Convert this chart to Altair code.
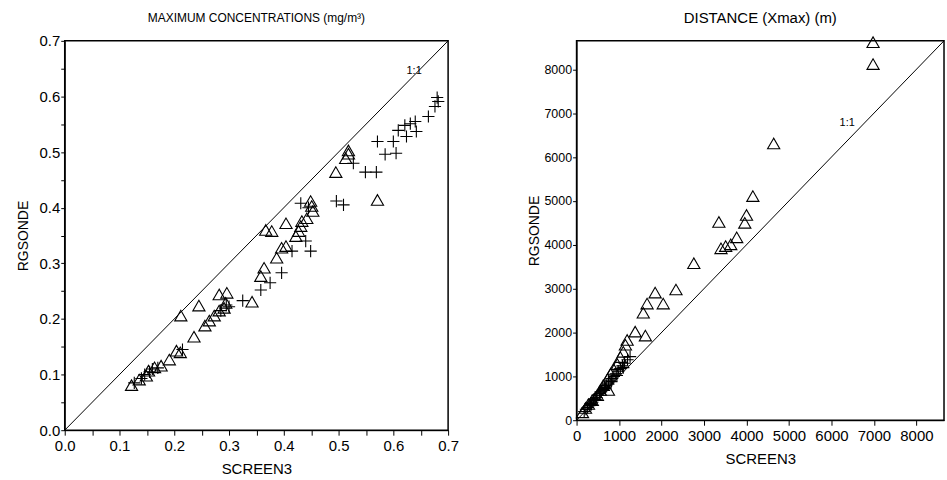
import altair as alt
import pandas as pd

# ---------------- Left panel: maximum concentrations (mg/m3) ----------------
conc_tri_screen3 = [0.122, 0.136, 0.149, 0.153, 0.164, 0.176, 0.191, 0.204, 0.211, 0.212,
                    0.236, 0.245, 0.256, 0.264, 0.273, 0.282, 0.291, 0.282, 0.296, 0.294,
                    0.342, 0.358, 0.364, 0.387, 0.396, 0.404, 0.367, 0.378, 0.404, 0.422,
                    0.427, 0.431, 0.433, 0.442, 0.453, 0.451, 0.449, 0.495, 0.513, 0.518,
                    0.518, 0.571]
conc_tri_rgsonde = [0.081, 0.091, 0.098, 0.107, 0.113, 0.116, 0.127, 0.143, 0.140, 0.206,
                    0.168, 0.224, 0.188, 0.197, 0.206, 0.215, 0.220, 0.244, 0.247, 0.229,
                    0.231, 0.277, 0.292, 0.310, 0.328, 0.331, 0.360, 0.358, 0.372, 0.349,
                    0.358, 0.367, 0.376, 0.381, 0.394, 0.403, 0.412, 0.464, 0.489, 0.497,
                    0.503, 0.414]
conc_plus_screen3 = [0.127, 0.140, 0.146, 0.155, 0.160, 0.170, 0.215, 0.285, 0.295, 0.300,
                     0.325, 0.358, 0.375, 0.396, 0.415, 0.440, 0.449, 0.431, 0.445, 0.496,
                     0.509, 0.527, 0.549, 0.569, 0.571, 0.585, 0.605, 0.600, 0.609, 0.621,
                     0.631, 0.640, 0.624, 0.642, 0.664, 0.676, 0.682, 0.680]
conc_plus_rgsonde = [0.085, 0.093, 0.100, 0.105, 0.110, 0.112, 0.145, 0.215, 0.225, 0.222,
                     0.233, 0.252, 0.265, 0.283, 0.322, 0.340, 0.322, 0.408, 0.400, 0.412,
                     0.405, 0.480, 0.464, 0.464, 0.519, 0.496, 0.498, 0.519, 0.539, 0.548,
                     0.551, 0.555, 0.528, 0.537, 0.564, 0.582, 0.591, 0.598]

# ---------------- Right panel: distance Xmax (m) ----------------
dist_tri_screen3 = [6980, 6980, 4640, 4150, 4000, 3960, 3350, 3770, 3630, 3510,
                    3400, 2760, 2340, 1850, 2040, 1660, 1570, 1620, 1380, 1190,
                    1150, 1100, 1030, 960, 870, 800, 730, 630, 560, 750,
                    490, 370, 280, 210, 140]
dist_tri_rgsonde = [8620, 8120, 6310, 5110, 4680, 4500, 4520, 4170, 4010, 3970,
                    3920, 3580, 2980, 2910, 2660, 2660, 2450, 1930, 2020, 1830,
                    1720, 1560, 1440, 1280, 1170, 1060, 940, 800, 690, 690,
                    570, 460, 370, 280, 180]
dist_plus_screen3 = [180, 220, 260, 300, 330, 370, 400, 430, 470, 500,
                     540, 580, 620, 660, 700, 750, 790, 840, 880, 930,
                     980, 1030, 1080, 1130, 1200, 1260, 350, 450, 560, 680,
                     820, 950, 1100]
dist_plus_rgsonde = [200, 250, 290, 330, 380, 410, 460, 490, 520, 570,
                     610, 650, 700, 750, 790, 850, 900, 950, 1000, 1060,
                     1120, 1180, 1240, 1300, 1380, 1450, 360, 470, 640, 720,
                     880, 1020, 1200]

conc_ticks = [0.0, 0.05, 0.1, 0.15, 0.2, 0.25, 0.3, 0.35, 0.4, 0.45, 0.5, 0.55, 0.6, 0.65, 0.7]
dist_ticks = [0, 1000, 2000, 3000, 4000, 5000, 6000, 7000, 8000]

PLUS = "M-1,0H1M0,-1V1"
FONT = "Liberation Sans"


def panel(tri_x, tri_y, plus_x, plus_y, domain_max, ticks, label_expr,
          title, title_size, w, h, line_label_pos, ylab_size, ytitle_pad):
    tri = pd.DataFrame({"SCREEN3": tri_x, "RGSONDE": tri_y})
    plus = pd.DataFrame({"SCREEN3": plus_x, "RGSONDE": plus_y})
    one = pd.DataFrame({"SCREEN3": [0, domain_max], "RGSONDE": [0, domain_max]})
    lab = pd.DataFrame({"SCREEN3": [line_label_pos[0]], "RGSONDE": [line_label_pos[1]], "t": ["1:1"]})

    xs = alt.Scale(domain=[0, domain_max], nice=False, zero=True)
    ys = alt.Scale(domain=[0, domain_max], nice=False, zero=True)
    xa = alt.Axis(values=ticks, labelExpr=label_expr, tickSize=5, labelPadding=3,
                  titlePadding=8, labelFlush=False, labelFontSize=15, titleFontSize=15)
    ya = alt.Axis(values=ticks, labelExpr=label_expr, tickSize=4, labelPadding=1,
                  titlePadding=ytitle_pad, labelFlush=False, labelFontSize=ylab_size,
                  titleFontSize=14)

    base_x = alt.X("SCREEN3:Q", scale=xs, axis=xa, title="SCREEN3")
    base_y = alt.Y("RGSONDE:Q", scale=ys, axis=ya, title="RGSONDE")

    line = alt.Chart(one).mark_line(color="black", strokeWidth=1).encode(x=base_x, y=base_y)
    tri_l = alt.Chart(tri).mark_point(shape="triangle-up", filled=False, color="black",
                                      size=150, strokeWidth=1.1, opacity=1).encode(x=base_x, y=base_y)
    plus_l = alt.Chart(plus).mark_point(shape=PLUS, filled=False, color="black",
                                        size=150, strokeWidth=1.1, opacity=1).encode(x=base_x, y=base_y)
    text_l = alt.Chart(lab).mark_text(font=FONT, fontSize=11, color="black").encode(
        x=base_x, y=base_y, text="t:N")
    return alt.layer(line, tri_l, plus_l, text_l).properties(
        width=w, height=h,
        title=alt.TitleParams(title, frame="group", offset=9, fontSize=title_size))


left = panel(conc_tri_screen3, conc_tri_rgsonde, conc_plus_screen3, conc_plus_rgsonde,
             0.7, conc_ticks,
             "(round(datum.value*100) % 10 == 0) ? format(datum.value, '.1f') : ''",
             "MAXIMUM CONCENTRATIONS (mg/m³)", 12, 385, 391, (0.638, 0.646), 15, 9)
right = panel(dist_tri_screen3, dist_tri_rgsonde, dist_plus_screen3, dist_plus_rgsonde,
              8650, dist_ticks, "format(datum.value, 'd')",
              "DISTANCE (Xmax) (m)", 15, 369, 381, (6370, 6770), 12.5, 2)

chart = alt.hconcat(left, right, spacing=67).properties(
    padding={"left": 15, "top": 9, "right": 0, "bottom": 0}
).configure_view(
    stroke="black", strokeWidth=1.5
).configure_axis(
    grid=False, domainColor="black", tickColor="black", labelColor="black",
    titleColor="black", labelFont=FONT, titleFont=FONT, titleFontWeight="normal"
).configure_title(
    font=FONT, fontWeight="normal", color="black"
)

chart.save("out.html", embed_options={"renderer": "svg", "actions": False})
